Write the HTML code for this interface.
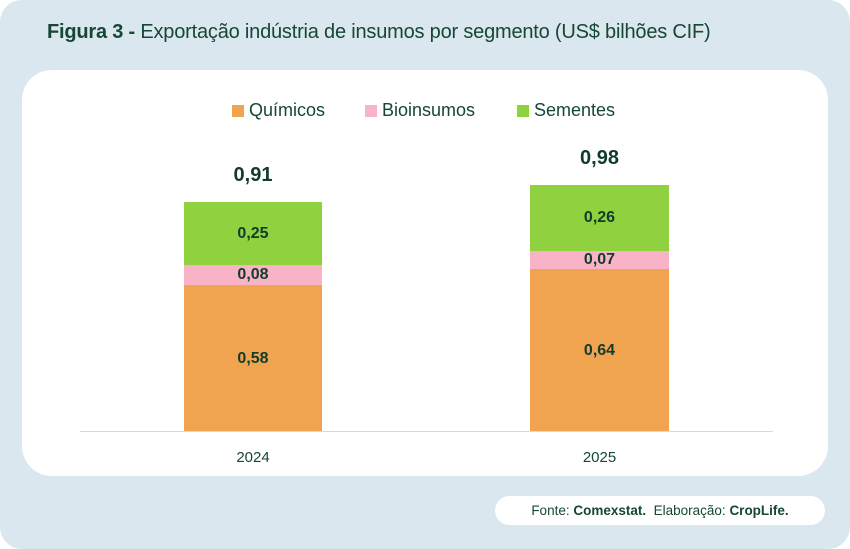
<!DOCTYPE html>
<html><head><meta charset="utf-8"><style>
body{margin:0;width:850px;height:549px;background:#fff;font-family:"Liberation Sans",sans-serif;color:#154734;}
.bg{position:absolute;left:0;top:0;width:850px;height:549px;background:#dbe7ee;border-radius:22px;}
.t{position:absolute;left:47px;top:21px;font-size:20px;white-space:nowrap;letter-spacing:-0.2px}
.p{position:absolute;left:22px;top:70px;width:806px;height:406px;background:#fff;border-radius:30px;}
.b{position:absolute;display:flex;align-items:center;justify-content:center;font-weight:bold;font-size:16px;color:#123b2c}
.l{position:absolute;font-size:18px;top:100px}
.sq{display:inline-block;width:12px;height:12px;margin-right:5px;vertical-align:-1px}
.f{position:absolute;left:495px;top:496px;width:330px;height:29px;background:#fff;border-radius:15px;font-size:13.5px;text-align:center;line-height:29px}
</style></head><body>
<div class="bg"></div>
<div class="t"><b>Figura 3 -</b> Exportação indústria de insumos por segmento (US$ bilhões CIF)</div>
<div class="p"></div>
<div class="l" style="left:232px"><span class="sq" style="background:#f0a44f"></span>Químicos</div>
<div class="l" style="left:365px"><span class="sq" style="background:#f9b3c6"></span>Bioinsumos</div>
<div class="l" style="left:517px"><span class="sq" style="background:#8fd13f"></span>Sementes</div>
<div class="b" style="left:184px;top:160px;width:138px;height:30px;font-size:20px">0,91</div>
<div class="b" style="left:184px;top:202px;width:138px;height:63px;background:#8fd13f">0,25</div>
<div class="b" style="left:184px;top:265px;width:138px;height:20px;background:#f9b3c6">0,08</div>
<div class="b" style="left:184px;top:285px;width:138px;height:147px;background:#f0a44f">0,58</div>
<div class="b" style="left:530px;top:143px;width:139px;height:30px;font-size:20px">0,98</div>
<div class="b" style="left:530px;top:185px;width:139px;height:66px;background:#8fd13f">0,26</div>
<div class="b" style="left:530px;top:251px;width:139px;height:18px;background:#f9b3c6">0,07</div>
<div class="b" style="left:530px;top:269px;width:139px;height:163px;background:#f0a44f">0,64</div>
<div style="position:absolute;left:80px;top:431px;width:693px;height:1px;background:#d9d9d9"></div>
<div style="position:absolute;left:184px;width:138px;top:449px;text-align:center;font-size:15px">2024</div>
<div style="position:absolute;left:530px;width:139px;top:449px;text-align:center;font-size:15px">2025</div>
<div class="f">Fonte: <b>Comexstat.</b> &nbsp;Elaboração: <b>CropLife.</b></div>
</body></html>
